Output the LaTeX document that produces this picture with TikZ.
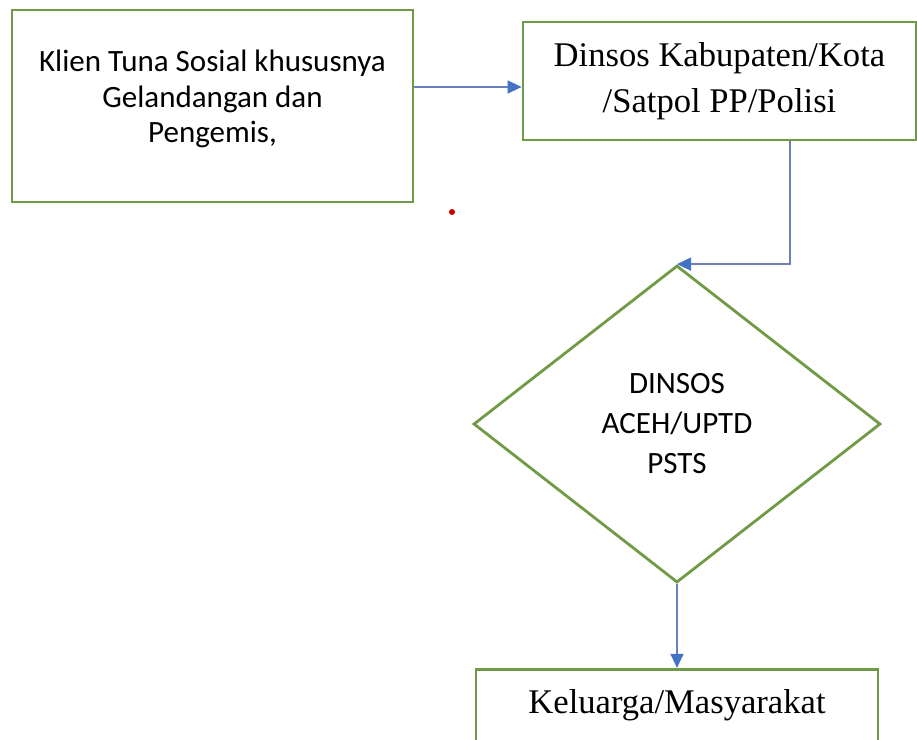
\documentclass[tikz,border=0pt]{standalone}
\usepackage{fontspec}
\setmainfont{Liberation Serif}
\newfontfamily\calibri{Carlito}
\usetikzlibrary{shapes.geometric, arrows.meta, positioning}

\definecolor{kotakhijau}{RGB}{112,155,70}
\definecolor{panahbiru}{RGB}{68,114,196}
\definecolor{garisbiru}{RGB}{105,128,188}

\begin{document}
\begin{tikzpicture}[x=0.5pt, y=-0.5pt,
    kotak/.style={draw=kotakhijau, line width=1.4pt, rectangle, inner sep=0pt},
    belah/.style={draw=kotakhijau, line width=1.4pt, diamond, inner sep=0pt,
      minimum width=203.5pt, minimum height=158.5pt},
    panah/.style={draw=garisbiru, line width=0.7pt,
      -{Triangle[length=7pt, width=6.5pt, color=panahbiru]}},
    tulisan/.style={font=\calibri\fontsize{15.5}{17.75}\selectfont, align=center},
    serif/.style={font=\fontsize{17.3}{23}\selectfont, align=center}]
  \useasboundingbox (0,0) rectangle (917,740);

  \node[kotak, minimum width=200.5pt, minimum height=96pt] (klien) at (212.5,106) {};
  \node[tulisan] (klientxt) at ([yshift=3.5pt]klien.center)
    {Klien Tuna Sosial khususnya\\Gelandangan dan\\Pengemis,};

  \node[kotak, serif, minimum width=196.5pt, minimum height=59pt] (dinsos) at (719.5,81)
    {Dinsos Kabupaten/Kota\\/Satpol PP/Polisi};

  \node[belah, tulisan, font=\calibri\fontsize{15.5}{20}\selectfont] (pusat) at (677,424)
    {DINSOS\\ACEH/UPTD\\PSTS};

  \node[kotak, serif, minimum width=201pt, minimum height=36pt, below=42pt of pusat] (keluarga)
    {Keluarga/Masyarakat};

  \fill[red!80!black] (452,212) circle (1.5pt);

  \draw[panah] ([yshift=-3pt]dinsos.west -| klien.east) -- ([yshift=-3pt]dinsos.west);
  \draw[panah] ([xshift=35.25pt]dinsos.south) |- (pusat.north);
  \draw[panah] (pusat) -- (keluarga);
\end{tikzpicture}
\end{document}
